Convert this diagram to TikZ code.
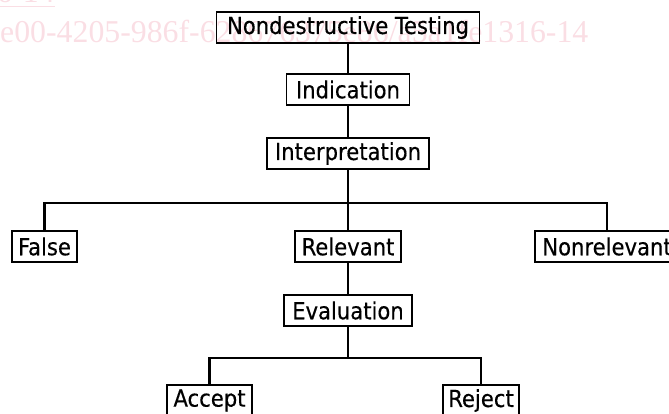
\documentclass[tikz,border=0pt]{standalone}
\usepackage{fontspec}
\setmainfont[FakeBold=0.35]{DejaVu Sans Condensed}
\newfontfamily\wmfont{Liberation Serif}
\definecolor{wmpink}{RGB}{250,222,228}
\begin{document}
\begin{tikzpicture}[x=1pt,y=1pt,
  box/.style={draw=black,line width=1.8pt,inner sep=0pt,minimum height=31pt,
    font=\fontsize{23.5}{24}\selectfont,text=black},
  conn/.style={line width=2.2pt,draw=black,line join=miter}]
\useasboundingbox (0,0) rectangle (669,-414);
% watermark
\node[anchor=base west,inner sep=0pt,text=wmpink,font=\wmfont\fontsize{31.8}{32}\selectfont] (wm) at (0,-43) {e00-4205-986f-628676375e86/a5a1fe1316-14};
\node[anchor=base east,inner sep=0pt,text=wmpink,font=\wmfont\fontsize{31.8}{32}\selectfont] (wm0) at (55,-3) {316-14};
\draw[wmpink,line width=1.5pt] (wm0.west |- 0,-6.5) -- (wm0.east |- 0,-6.5);
% nodes
\node[box,minimum width=263pt] (ndt) at (348,-27.5) {Nondestructive Testing};
\node[box,minimum width=123pt] (ind) at (348,-89.5) {Indication};
\node[box,minimum width=162pt] (int) at (348,-153.5) {Interpretation};
\node[box,minimum width=65pt] (fal) at (44.5,-246.5) {False};
\node[box,minimum width=106pt] (rel) at (348,-246.5) {Relevant};
\node[box,minimum width=144pt] (non) at (607,-246.5) {Nonrelevant};
\node[box,minimum width=128pt] (eva) at (348,-310.5) {Evaluation};
\node[box,minimum width=85pt] (acc) at (209.5,-400.5) {Accept};
\node[box,minimum width=76pt] (rej) at (481,-400.5) {Reject};
\coordinate (j1) at (348,-203);
\coordinate (j2) at (348,-358);
% connectors
\draw[conn] (ndt.south) -- (ind.north);
\draw[conn] (ind.south) -- (int.north);
\draw[conn] (int.south) -- (rel.north);
\draw[conn] (fal.north) |- (j1) -| (non.north);
\draw[conn] (rel.south) -- (eva.north);
\draw[conn] (eva.south) -- (j2);
\draw[conn] (acc.north) |- (j2) -| (rej.north);
\end{tikzpicture}
\end{document}
